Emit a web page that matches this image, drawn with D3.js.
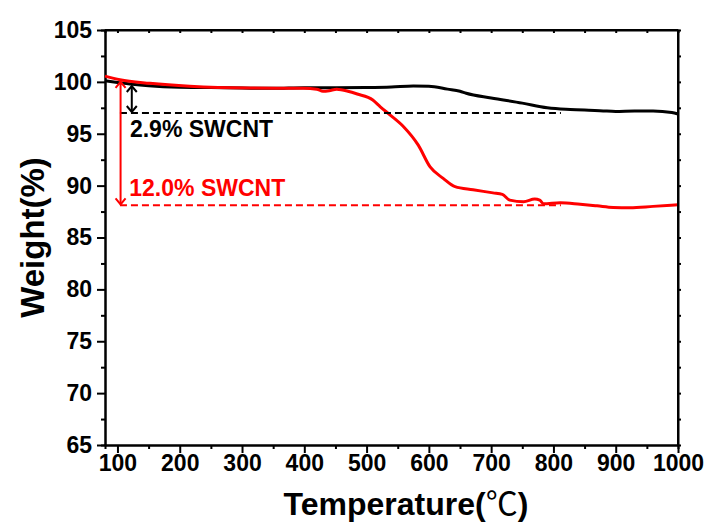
<!DOCTYPE html>
<html>
<head>
<meta charset="utf-8">
<script src="https://cdn.jsdelivr.net/npm/d3@7"></script>
<style>
    body { margin: 0; background: #fff; }
    text { font-family: Arial, "Liberation Sans", sans-serif; font-weight: bold; }
    .axis path, .axis line { stroke: #000; stroke-width: 2; }
    .axis text { font-size: 23px; fill: #000; }
</style>
</head>
<body>
<div id="tga"></div>
<script>
// black curve (2.9% SWCNT)
const blackTemp = [80, 100, 120, 150, 200, 250, 300, 350, 400, 450, 500, 540, 575, 600, 630, 650, 660, 700, 750, 790, 820, 850, 880, 900, 930, 960, 990, 1000]
const blackWeight = [100.1, 99.95, 99.8, 99.62, 99.48, 99.45, 99.4, 99.38, 99.44, 99.43, 99.45, 99.5, 99.6, 99.58, 99.3, 99.1, 98.9, 98.45, 97.95, 97.5, 97.35, 97.3, 97.2, 97.15, 97.2, 97.2, 97.05, 96.9]
// red curve (12.0% SWCNT)
const redTemp = [80, 104, 152, 216, 313, 398, 420, 430, 440, 452, 470, 485, 510, 522, 538, 559, 583, 602, 623, 642, 671, 703, 718, 730, 752, 770, 778, 784, 811, 843, 870, 896, 923, 960, 1000]
const redWeight = [100.55, 100.2, 99.86, 99.57, 99.4, 99.38, 99.3, 99.1, 99.15, 99.28, 99.1, 98.83, 98.25, 97.6, 96.8, 95.7, 93.9, 91.8, 90.7, 89.9, 89.6, 89.3, 89.15, 88.6, 88.45, 88.7, 88.6, 88.25, 88.35, 88.2, 88.05, 87.9, 87.87, 88.0, 88.15]

// annotations
const lossLabels = ['2.9% SWCNT', '12.0% SWCNT']
const lossColors = ['#000', '#f00']
const lossTop = [99.7, 100.1]
const lossBottom = [97.0, 88.1]
const arrowTemp = [123, 105]
const dashStart = 104, dashEnd = 812

const xTicks = [100, 200, 300, 400, 500, 600, 700, 800, 900, 1000]
const yTicks = [65, 70, 75, 80, 85, 90, 95, 100, 105]

drawTGA()
function drawTGA() {
    const margin = { top: 30, right: 30, bottom: 79, left: 105 },
        width = 708 - margin.left - margin.right,
        height = 524 - margin.top - margin.bottom;
    const svg = d3.select('#tga').append('svg')
        .attr('width', 708)
        .attr('height', 524)
    const chart = svg.append('g')
        .attr('transform', `translate(${margin.left},${margin.top})`)

    const x = d3.scaleLinear().domain([80, 1000]).range([0, width])
    const y = d3.scaleLinear().domain([65, 105]).range([height, 0])

    // minor ticks
    const xMinor = d3.range(150, 1000, 100)
    const yMinor = d3.range(67.5, 105, 5)
    chart.append('g')
        .attr('class', 'axis')
        .attr('transform', `translate(0,${height})`)
        .call(d3.axisBottom(x).tickValues(xMinor).tickSize(4).tickFormat(''))
    chart.append('g')
        .attr('class', 'axis')
        .call(d3.axisLeft(y).tickValues(yMinor).tickSize(4).tickFormat(''))

    // top and right mirror ticks
    chart.append('g')
        .attr('class', 'axis')
        .call(d3.axisTop(x).tickValues(d3.range(100, 1000, 50)).tickSize(-3).tickFormat(''))
    chart.append('g')
        .attr('class', 'axis')
        .attr('transform', `translate(${width},0)`)
        .call(d3.axisRight(y).tickValues(d3.range(67.5, 105, 2.5)).tickSize(3).tickFormat(''))

    // main axes
    chart.append('g')
        .attr('class', 'axis')
        .attr('transform', `translate(0,${height})`)
        .call(d3.axisBottom(x).tickValues(xTicks).tickSize(8).tickPadding(2).tickSizeOuter(0).tickFormat(d3.format('d')))
    chart.append('g')
        .attr('class', 'axis')
        .call(d3.axisLeft(y).tickValues(yTicks).tickSize(8).tickPadding(5).tickSizeOuter(0))

    // curves
    const line = d3.line()
        .x((d) => x(d[0]))
        .y((d) => y(d[1]))
        .curve(d3.curveMonotoneX)
    chart.append('path')
        .datum(blackTemp.map((t, i) => [t, blackWeight[i]]))
        .attr('fill', 'none')
        .attr('stroke', '#000')
        .attr('stroke-width', 3)
        .attr('d', line)
    chart.append('path')
        .datum(redTemp.map((t, i) => [t, redWeight[i]]))
        .attr('fill', 'none')
        .attr('stroke', '#f00')
        .attr('stroke-width', 3)
        .attr('d', line)

    // dashed levels
    chart.selectAll('.level')
        .data(lossBottom)
        .enter().append('line')
        .attr('x1', x(dashStart))
        .attr('x2', x(dashEnd))
        .attr('y1', (d) => y(d))
        .attr('y2', (d) => y(d))
        .attr('stroke', (d, i) => lossColors[i])
        .attr('stroke-width', 2)
        .attr('stroke-dasharray', '7,4')

    // double arrows
    lossLabels.forEach(function (label, i) {
        const ax = x(arrowTemp[i]), y1 = y(lossTop[i]), y2 = y(lossBottom[i])
        const g = chart.append('g')
            .attr('stroke', lossColors[i])
            .attr('stroke-width', 2)
            .attr('fill', 'none')
        g.append('line').attr('x1', ax).attr('x2', ax).attr('y1', y1 + 1).attr('y2', y2 - 1)
        g.append('path').attr('d', `M${ax - 5},${y1 + 7}L${ax},${y1 + 1}L${ax + 5},${y1 + 7}`)
        g.append('path').attr('d', `M${ax - 5},${y2 - 7}L${ax},${y2 - 1}L${ax + 5},${y2 - 7}`)
    })

    // annotation labels
    chart.append('text')
        .attr('x', x(120))
        .attr('y', y(lossBottom[0]) + 24)
        .attr('fill', lossColors[0])
        .style('font-size', '23px')
        .text(lossLabels[0])
    chart.append('text')
        .attr('x', x(119))
        .attr('y', y(lossBottom[1]) - 9)
        .attr('fill', lossColors[1])
        .style('font-size', '23px')
        .text(lossLabels[1])

    // frame top / right
    chart.append('line')
        .attr('x1', 0).attr('x2', width).attr('y1', 0).attr('y2', 0)
        .attr('stroke', '#000').attr('stroke-width', 2)
    chart.append('line')
        .attr('x1', width).attr('x2', width).attr('y1', 0).attr('y2', height)
        .attr('stroke', '#000').attr('stroke-width', 2)

    // x axis title
    const xt = svg.append('text')
        .attr('x', 406)
        .attr('y', 515)
        .attr('text-anchor', 'middle')
        .style('font-size', '32px')
    xt.append('tspan').text('Temperature(')
    xt.append('tspan')
        .style('font-family', '"Noto Sans CJK SC", "DejaVu Sans", sans-serif')
        .style('font-weight', 'normal')
        .text('℃')
    xt.append('tspan').text(')')

    // y axis title
    svg.append('text')
        .attr('transform', `translate(44,${margin.top + height / 2}) rotate(-90)`)
        .attr('text-anchor', 'middle')
        .style('font-size', '33px')
        .text('Weight(%)')
}
</script>
</body>
</html>
